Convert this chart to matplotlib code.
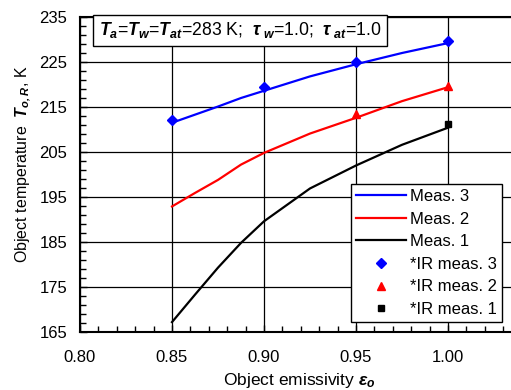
import numpy as np
import matplotlib.pyplot as plt
from matplotlib.ticker import MultipleLocator

plt.rcParams['font.family'] = ['Liberation Sans', 'DejaVu Sans']
plt.rcParams['mathtext.fontset'] = 'custom'
plt.rcParams['mathtext.rm'] = 'Liberation Sans'
plt.rcParams['mathtext.it'] = 'Liberation Sans:italic'
plt.rcParams['mathtext.bf'] = 'Liberation Sans:bold'
plt.rcParams['mathtext.bfit'] = 'Liberation Sans:bold:italic'

# data
eps = [0.85, 0.8625, 0.875, 0.8875, 0.9, 0.925, 0.95, 0.975, 1.0]
meas3 = [211.5, 213.3, 215.1, 217.0, 218.6, 221.8, 224.5, 227.0, 229.2]
meas2 = [192.9, 195.9, 198.8, 202.2, 204.8, 209.1, 212.6, 216.3, 219.4]
meas1 = [167.2, 173.3, 179.3, 184.8, 189.6, 196.9, 202.0, 206.6, 210.4]

ir3_eps = [0.85, 0.90, 0.95, 1.00]
ir3 = [212.1, 219.5, 225.1, 229.7]
ir2_eps = [0.95, 1.00]
ir2 = [213.4, 219.7]
ir1_eps = [1.00]
ir1 = [211.2]

xticks = [0.80, 0.85, 0.90, 0.95, 1.00]
yticks = [165, 175, 185, 195, 205, 215, 225, 235]

fig = plt.figure(figsize=(5.11, 3.90), dpi=100)
# axes run past the right edge, like the cropped original
ax = fig.add_axes([80/511, 58/390, 460/511, 315/390])

ax.plot(eps, meas3, color='#0000ff', lw=1.6, label='Meas. 3', zorder=3)
ax.plot(eps, meas2, color='#ff0000', lw=1.6, label='Meas. 2', zorder=3)
ax.plot(eps, meas1, color='black', lw=1.6, label='Meas. 1', zorder=3)
ax.plot(ir3_eps, ir3, 'D', color='#0000ff', ms=5, ls='none', label='*IR meas. 3', zorder=4)
ax.plot(ir2_eps, ir2, '^', color='#ff0000', ms=6, ls='none', label='*IR meas. 2', zorder=4)
ax.plot(ir1_eps, ir1, 's', color='black', ms=5, ls='none', label='*IR meas. 1', zorder=4)

ax.set_xlim(0.80, 1.05)
ax.set_ylim(165, 235)
ax.set_xticks(xticks)
ax.set_xticklabels(['%.2f' % v for v in xticks])
ax.set_yticks(yticks)
ax.xaxis.set_minor_locator(MultipleLocator(0.01))
ax.yaxis.set_minor_locator(MultipleLocator(2, offset=1))
ax.tick_params(which='both', direction='in', labelsize=12)
ax.tick_params(which='major', length=5, width=1)
ax.tick_params(which='minor', length=4, width=1)
ax.tick_params(axis='x', pad=13)
ax.tick_params(axis='y', pad=9)

ax.grid(True, which='major', color='black', lw=0.9)
for s in ax.spines.values():
    s.set_linewidth(1.5)
ax.spines['right'].set_visible(False)

# axis titles placed in figure pixels (axes box is wider than the picture)
fig.text(299/511, 1 - 381/390, r'Object emissivity $\mathbfit{\varepsilon_o}$',
         fontsize=12.5, ha='center', va='center')
fig.text(23/511, 1 - 164/390, r'Object temperature  $\mathbfit{T_{o,R}}$, K',
         fontsize=11.5, rotation=90, ha='center', va='center')

fig.text(99/511, 1 - 30.5/390,
         r'$\mathbfit{T_a}$=$\mathbfit{T_w}$=$\mathbfit{T_{at}}$=283 K;  '
         r'$\mathbfit{\tau_{\ w}}$=1.0;  $\mathbfit{\tau_{\ at}}$=1.0',
         fontsize=12.7, ha='left', va='center',
         bbox=dict(boxstyle='square,pad=0.34', fc='white', ec='black', lw=1))

leg = ax.legend(loc='upper right', bbox_to_anchor=(510/511, 1 - 176/390),
                bbox_transform=fig.transFigure, fontsize=12, fancybox=False,
                framealpha=1, edgecolor='black', handlelength=3.0,
                borderpad=0.3, labelspacing=0.45, handletextpad=0.2)
leg.get_frame().set_linewidth(1)

fig.savefig('out.png', dpi=100)
